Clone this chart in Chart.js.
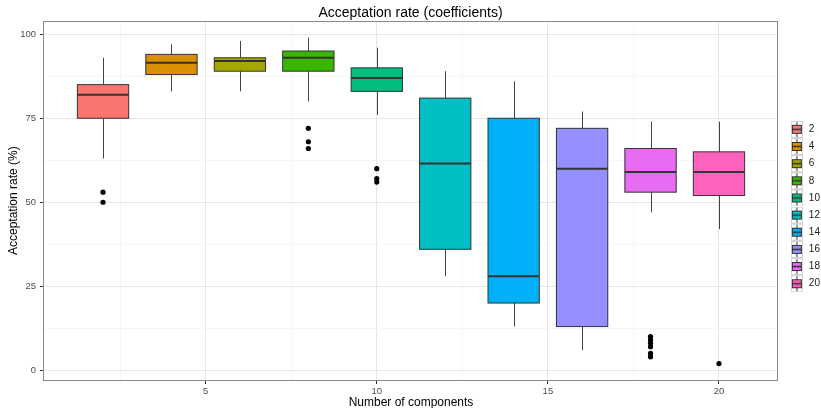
<!DOCTYPE html>
<html>
<head>
<meta charset="utf-8">
<title>Acceptation rate (coefficients)</title>
<script src="https://cdn.jsdelivr.net/npm/chart.js@4.4.0/dist/chart.umd.min.js"></script>
<style>
    html, body { margin: 0; padding: 0; background: #fff; }
    #chart { display: block; }
</style>
</head>
<body>
<canvas id="chart" width="821" height="408"></canvas>
<script>
// ============================================
// DATA - one box per number of components
// ============================================

const components  = [2, 4, 6, 8, 10, 12, 14, 16, 18, 20];
const whiskerLow  = [63, 83, 83, 80, 76, 28, 13, 6, 47, 42];
const q1          = [75, 88, 89, 89, 83, 36, 20, 13, 53, 52];
const medians     = [82, 91.5, 92, 93, 87, 61.5, 28, 60, 59, 59];
const q3          = [85, 94, 93, 95, 90, 81, 75, 72, 66, 65];
const whiskerHigh = [93, 97, 98, 99, 96, 89, 86, 77, 74, 74];
const outliers    = [[53, 50], [], [], [72, 68, 66], [60, 57, 56], [], [], [], [10, 9, 8, 7, 5, 4], [2]];

const xTicks = [5, 10, 15, 20];
const xMinor = [2.5, 7.5, 12.5, 17.5];
const yTicks = [0, 25, 50, 75, 100];
const yMinor = [12.5, 37.5, 62.5, 87.5];

// ggplot default hue palette
const colors = ['#F8766D', '#D89000', '#A3A500', '#39B600', '#00BF7D', '#00BFC4', '#00B0F6', '#9590FF', '#E76BF3', '#FF62BC'];

const BOX_HALF = 0.75;
const LEGEND_W = 43;
const FONT = '"Liberation Sans", Arial, Helvetica, sans-serif';

// small boxplot glyph used as legend key
function makeKey(color) {
    const c = document.createElement('canvas');
    c.width = 12;
    c.height = 17;
    const g = c.getContext('2d');
    g.fillStyle = '#fff';
    g.fillRect(0, 0, 12, 17);
    g.strokeStyle = '#d4d4d4';
    g.lineWidth = 1;
    g.strokeRect(0.5, 0.5, 11, 16);
    g.strokeStyle = '#333';
    g.beginPath();
    g.moveTo(6, 1);
    g.lineTo(6, 16);
    g.stroke();
    g.fillStyle = color;
    g.fillRect(1.5, 4.5, 9, 8);
    g.strokeRect(1.5, 4.5, 9, 8);
    g.lineWidth = 1.5;
    g.beginPath();
    g.moveTo(1.5, 8.5);
    g.lineTo(10.5, 8.5);
    g.stroke();
    return c;
}

const keyImages = colors.map(makeKey);

// boxes + whiskers, drawn under the outlier points
const boxPlugin = {
    id: 'boxes',
    beforeDatasetsDraw(chart) {
        const { ctx, scales: { x, y } } = chart;
        ctx.save();
        components.forEach((c, i) => {
            const left = x.getPixelForValue(c - BOX_HALF);
            const right = x.getPixelForValue(c + BOX_HALF);
            const mid = Math.round(x.getPixelForValue(c)) + 0.5;
            const yQ1 = y.getPixelForValue(q1[i]);
            const yQ3 = y.getPixelForValue(q3[i]);
            const yMed = y.getPixelForValue(medians[i]);

            ctx.strokeStyle = '#444';
            ctx.lineWidth = 1;
            ctx.beginPath();
            ctx.moveTo(mid, y.getPixelForValue(whiskerHigh[i]));
            ctx.lineTo(mid, yQ3);
            ctx.moveTo(mid, yQ1);
            ctx.lineTo(mid, y.getPixelForValue(whiskerLow[i]));
            ctx.stroke();

            ctx.fillStyle = colors[i];
            ctx.fillRect(left, yQ3, right - left, yQ1 - yQ3);
            ctx.strokeStyle = '#333';
            ctx.strokeRect(left, yQ3, right - left, yQ1 - yQ3);

            ctx.lineWidth = 2;
            ctx.beginPath();
            ctx.moveTo(left, yMed);
            ctx.lineTo(right, yMed);
            ctx.stroke();
        });
        ctx.restore();
    },
    afterDraw(chart) {
        const { ctx, chartArea: a } = chart;
        ctx.save();
        ctx.strokeStyle = '#8a8a8a';
        ctx.lineWidth = 1;
        ctx.strokeRect(Math.round(a.left) - 0.5, Math.round(a.top) + 0.5,
            Math.round(a.right) - Math.round(a.left), Math.round(a.bottom) - Math.round(a.top));
        ctx.restore();
    },
};

// fixed legend width and placement next to the panel
const legendPlace = {
    id: 'legendPlace',
    beforeInit(chart) {
        const legend = chart.legend;
        const fit = legend.fit.bind(legend);
        legend.fit = function () {
            fit();
            this.width = LEGEND_W;
        };
    },
    afterLayout(chart) {
        const legend = chart.legend;
        legend.left = 782.7;
        legend.top = 117.2;
    },
};

function isMajor(list, value) {
    return list.includes(value);
}

function initChart() {
    const datasets = components.map((c, i) => ({
        label: String(c),
        data: outliers[i].map((v) => ({ x: c, y: v })),
        backgroundColor: '#000',
        borderWidth: 0,
        pointRadius: 2.6,
        pointStyle: 'circle',
    }));

    new Chart(document.getElementById('chart'), {
        type: 'scatter',
        data: { datasets },
        options: {
            responsive: false,
            animation: false,
            events: [],
            layout: { padding: 0 },
            plugins: {
                title: {
                    display: true,
                    text: 'Acceptation rate (coefficients)',
                    color: '#000',
                    font: { family: FONT, size: 14, weight: 'normal' },
                    padding: { top: 4.4, bottom: 0.1 },
                },
                legend: {
                    position: 'right',
                    align: 'start',
                    labels: {
                        usePointStyle: true,
                        pointStyleWidth: 14,
                        padding: 7.15,
                        font: { family: FONT, size: 10 },
                        generateLabels: (chart) => chart.data.datasets.map((ds, i) => ({
                            text: ds.label,
                            pointStyle: keyImages[i],
                            fillStyle: colors[i],
                            strokeStyle: '#333',
                            fontColor: '#1a1a1a',
                            lineWidth: 0,
                            hidden: false,
                            datasetIndex: i,
                        })),
                    },
                },
                tooltip: { enabled: false },
            },
            scales: {
                x: {
                    type: 'linear',
                    min: 0.275,
                    max: 21.725,
                    afterBuildTicks: (s) => {
                        s.ticks = [...xMinor, ...xTicks].sort((a, b) => a - b).map((v) => ({ value: v }));
                    },
                    afterFit: (s) => { s.height = 28; },
                    ticks: {
                        autoSkip: false,
                        maxRotation: 0,
                        padding: 2,
                        color: '#4d4d4d',
                        font: { family: FONT, size: 9.5 },
                        callback: (v) => (isMajor(xTicks, v) ? String(v) : ''),
                    },
                    grid: {
                        color: (ctx) => (isMajor(xTicks, ctx.tick.value) ? '#e6e6e6' : '#f6f6f6'),
                        tickColor: (ctx) => (isMajor(xTicks, ctx.tick.value) ? '#333' : 'rgba(0,0,0,0)'),
                        tickLength: 4,
                        lineWidth: 1,
                    },
                    border: { display: false },
                    title: {
                        display: true,
                        text: 'Number of components',
                        color: '#000',
                        font: { family: FONT, size: 12 },
                        padding: { top: 0, bottom: -1.4 },
                    },
                },
                y: {
                    type: 'linear',
                    min: -2.9,
                    max: 103.85,
                    afterBuildTicks: (s) => {
                        s.ticks = [...yMinor, ...yTicks].sort((a, b) => a - b).map((v) => ({ value: v }));
                    },
                    afterFit: (s) => { s.width = 44; },
                    ticks: {
                        autoSkip: false,
                        padding: 4,
                        color: '#4d4d4d',
                        font: { family: FONT, size: 9.5 },
                        callback: (v) => (isMajor(yTicks, v) ? String(v) : ''),
                    },
                    grid: {
                        color: (ctx) => (isMajor(yTicks, ctx.tick.value) ? '#e6e6e6' : '#f6f6f6'),
                        tickColor: (ctx) => (isMajor(yTicks, ctx.tick.value) ? '#333' : 'rgba(0,0,0,0)'),
                        tickLength: 4,
                        lineWidth: 1,
                    },
                    border: { display: false },
                    title: {
                        display: true,
                        text: 'Acceptation rate (%)',
                        color: '#000',
                        font: { family: FONT, size: 12 },
                        padding: { top: 6, bottom: 0 },
                    },
                },
            },
        },
        plugins: [boxPlugin, legendPlace],
    });
}

document.addEventListener('DOMContentLoaded', initChart);
</script>
</body>
</html>
